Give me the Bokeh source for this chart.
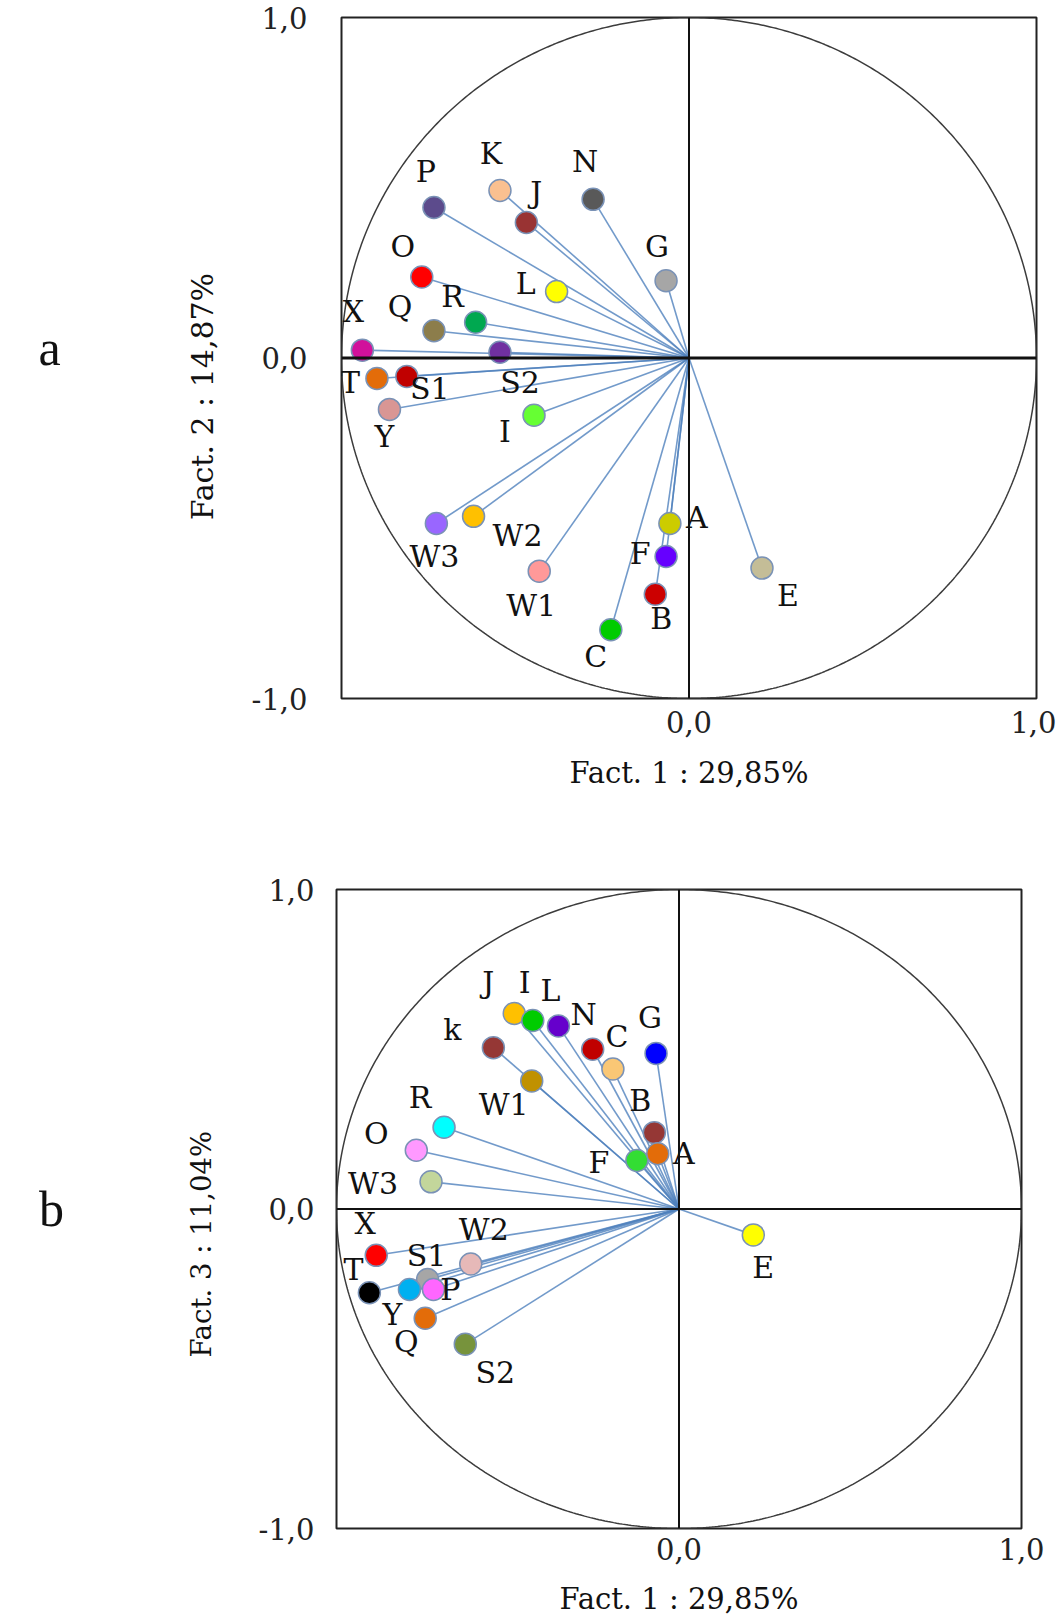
import numpy as np
from bokeh.plotting import figure
from bokeh.layouts import column, row
from bokeh.models import FixedTicker, Span, ColumnDataSource, Range1d
from bokeh.core.properties import value
from bokeh.embed import file_html
from bokeh.resources import INLINE

# ---------------- data: panel a (Fact.1 x Fact.2) ----------------
labels_a = ["P", "K", "J", "N", "G", "O", "L", "R", "Q", "X", "S2", "T", "S1", "Y",
            "I", "W3", "W2", "W1", "A", "F", "B", "C", "E"]
fact1_a = [-0.734, -0.544, -0.468, -0.276, -0.066, -0.769, -0.381, -0.614, -0.734, -0.940,
           -0.544, -0.898, -0.812, -0.862, -0.446, -0.727, -0.620, -0.431, -0.055, -0.066,
           -0.097, -0.225, 0.210]
fact2_a = [0.442, 0.492, 0.398, 0.466, 0.227, 0.238, 0.195, 0.105, 0.080, 0.023,
           0.017, -0.060, -0.054, -0.151, -0.168, -0.486, -0.465, -0.626, -0.486, -0.583,
           -0.694, -0.798, -0.617]
colors_a = ["#5c4b8c", "#fac090", "#993333", "#595959", "#a6a6a6", "#ff0000", "#ffff00",
            "#00a850", "#8c7d4b", "#d1119b", "#7030a0", "#e36c09", "#c00000", "#d99694",
            "#66ff33", "#9966ff", "#ffc000", "#ff9999", "#cccc00", "#6600ff", "#cc0000",
            "#00cc00", "#c4bd97"]

# ---------------- data: panel b (Fact.1 x Fact.3) ----------------
labels_b = ["J", "I", "L", "N", "C", "G", "k", "W1", "B", "F", "A", "R", "O", "W3",
            "X", "W2", "S1", "T", "Y", "P", "Q", "S2", "E"]
fact1_b = [-0.481, -0.427, -0.352, -0.252, -0.193, -0.067, -0.542, -0.430, -0.072, -0.123,
           -0.062, -0.686, -0.767, -0.724, -0.884, -0.608, -0.734, -0.904, -0.787, -0.717,
           -0.741, -0.624, 0.217]
fact3_b = [0.612, 0.590, 0.573, 0.500, 0.438, 0.487, 0.505, 0.401, 0.239, 0.152,
           0.173, 0.256, 0.184, 0.085, -0.145, -0.172, -0.221, -0.262, -0.252, -0.252,
           -0.342, -0.423, -0.081]
colors_b = ["#ffc000", "#00cc00", "#6600cc", "#c00000", "#fac775", "#0000ff", "#953735",
            "#c09100", "#953735", "#33dd33", "#e36c09", "#00ffff", "#ff99ff", "#c3d69b",
            "#ff0000", "#e6b9b8", "#a6a6a6", "#000000", "#00b0f0", "#ff66ff", "#e36c09",
            "#77933c", "#ffff00"]

x_ticks = [0, 1]
y_ticks = [-1, 0, 1]
tick_text = {-1: "-1,0", 0: "0,0", 1: "1,0"}
x_title = "Fact. 1 : 29,85%"
y_title_a = "Fact. 2 : 14,87%"
y_title_b = "Fact. 3 : 11,04%"
panel_tags = ["a", "b"]

# ---------------- label placement (screen px, style only) ----------------
off_a = {"P": (-8, -36), "K": (-9, -37), "J": (10, -30), "N": (-8, -38), "G": (-9, -34),
         "O": (-19, -30), "L": (-31, -8), "R": (-23, -26), "Q": (-34, -24), "X": (-9, -39),
         "S2": (20, 30), "T": (-27, 4), "S1": (23, 12), "Y": (-5, 27), "I": (-29, 16),
         "W3": (-2, 33), "W2": (44, 19), "W1": (-8, 34), "A": (27, -6), "F": (-26, -3),
         "B": (6, 24), "C": (-15, 27), "E": (26, 27)}
off_b = {"J": (-26, -31), "I": (-8, -38), "L": (-8, -35), "N": (-9, -35), "C": (4, -33),
         "G": (-6, -36), "k": (-41, -18), "W1": (-28, 24), "B": (-14, -32), "F": (-38, 2),
         "A": (26, 0), "R": (-24, -30), "O": (-40, -17), "W3": (-58, 2), "X": (-11, -32),
         "W2": (13, -34), "S1": (-1, -24), "T": (-16, -23), "Y": (-17, 25), "P": (17, 0),
         "Q": (-19, 23), "S2": (30, 28), "E": (10, 33)}

FONT = "DejaVu Serif"
FS = "29px"
LFS = "30px"
SIDE_W = 240


def side_fig(tag, ytitle, height, top, bottom, y0, tag_xy, title_xy, title_fs):
    """Left strip holding the panel tag and the vertical axis title.
    Its frame is aligned with the neighbouring plot frame; data units = page px."""
    t = figure(width=SIDE_W, height=height, x_range=Range1d(0, SIDE_W),
               y_range=Range1d(y0 + height - bottom, y0 + top),
               output_backend="svg", toolbar_location=None,
               x_axis_type=None, y_axis_type=None, min_border_left=0, min_border_right=0,
               min_border_top=top, min_border_bottom=bottom)
    t.outline_line_color = None
    t.grid.visible = False
    t.text(x=[tag_xy[0]], y=[tag_xy[1]], text=[tag], text_align="center",
           text_baseline="middle", text_font=value("Liberation Serif"),
           text_font_size="50px", text_color="#111111")
    t.text(x=[title_xy[0]], y=[title_xy[1]], text=[ytitle], angle=np.pi / 2,
           text_align="center", text_baseline="middle", text_font=value(FONT),
           text_font_size=title_fs, text_color="#111111")
    return t


def panel(labels, xs, ys, colors, offs, width, height, bl, br, bt, bb,
          ylab_standoff, xlab_standoff, xtitle_standoff, hwidth):
    p = figure(width=width, height=height, x_range=Range1d(-1, 1), y_range=Range1d(-1, 1),
               output_backend="svg", toolbar_location=None,
               min_border_left=bl, min_border_right=br, min_border_top=bt, min_border_bottom=bb)
    p.background_fill_color = "white"
    p.border_fill_color = "white"
    p.grid.visible = False
    p.outline_line_color = "#222222"
    p.outline_line_width = 2

    p.xaxis.ticker = FixedTicker(ticks=x_ticks)
    p.yaxis.ticker = FixedTicker(ticks=y_ticks)
    p.xaxis.major_label_overrides = {k: tick_text[k] for k in x_ticks}
    p.yaxis.major_label_overrides = {k: tick_text[k] for k in y_ticks}
    for ax in (p.xaxis, p.yaxis):
        ax.axis_line_color = None
        ax.major_tick_line_color = None
        ax.minor_tick_line_color = None
        ax.major_label_text_font = FONT
        ax.major_label_text_font_size = FS
        ax.major_label_text_color = "#222222"
        ax.axis_label_text_font = FONT
        ax.axis_label_text_font_size = FS
        ax.axis_label_text_font_style = "normal"
        ax.axis_label_text_color = "#111111"
    p.xaxis.axis_label = x_title
    p.yaxis.major_label_standoff = ylab_standoff
    p.xaxis.major_label_standoff = xlab_standoff
    p.xaxis.axis_label_standoff = xtitle_standoff

    # zero axes
    p.add_layout(Span(location=0, dimension="width", line_color="#111111", line_width=hwidth))
    p.add_layout(Span(location=0, dimension="height", line_color="#111111", line_width=2))

    # unit circle
    th = np.linspace(0, 2 * np.pi, 721)
    p.line(np.cos(th), np.sin(th), line_color="#3c3c3c", line_width=1.5)

    src = ColumnDataSource(dict(
        x=xs, y=ys, label=labels, color=colors,
        dx=[offs[l][0] for l in labels], dy=[offs[l][1] for l in labels]))
    p.segment(x0=0, y0=0, x1="x", y1="y", source=src, line_color="#4f81bd",
              line_alpha=0.8, line_width=1.6)
    p.scatter(x="x", y="y", source=src, size=22, fill_color="color",
              line_color="#7a92b6", line_width=1.5)
    p.text(x="x", y="y", text="label", source=src, x_offset="dx", y_offset="dy",
           text_align="center", text_baseline="middle", text_font=value(FONT),
           text_font_size=LFS, text_color="#111111")
    return p


H_A, H_B = 810, 808
TOP_A, BOT_A = 17, 112
TOP_B, BOT_B = 79, 86
pa = panel(labels_a, fact1_a, fact2_a, colors_a, off_a,
           1056 - SIDE_W, H_A, 341 - SIDE_W, 20, TOP_A, BOT_A, 28, 6, 20, 3)
pb = panel(labels_b, fact1_b, fact3_b, colors_b, off_b,
           1056 - SIDE_W, H_B, 336 - SIDE_W, 35, TOP_B, BOT_B, 16, 3, 19, 2)
sa = side_fig(panel_tags[0], y_title_a, H_A, TOP_A, BOT_A, 0, (49, 347), (202, 396), "30px")
sb = side_fig(panel_tags[1], y_title_b, H_B, TOP_B, BOT_B, H_A, (51, 1210), (200, 1246), "27.5px")

layout = column(row(sa, pa, spacing=0), row(sb, pb, spacing=0), spacing=0)
open("out.html", "w").write(file_html(layout, INLINE))
